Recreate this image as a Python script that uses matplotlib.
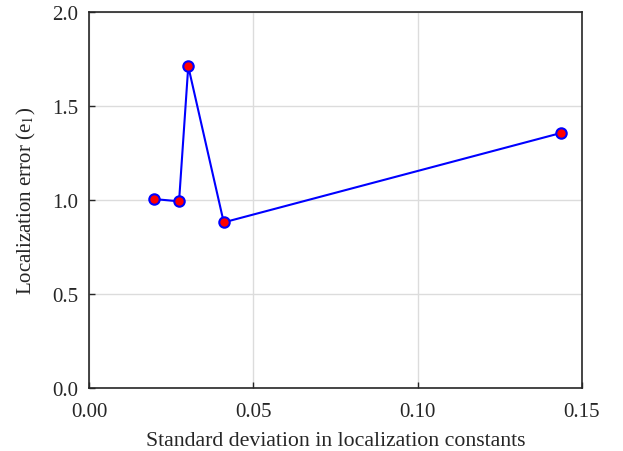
import matplotlib
matplotlib.use("Agg")
import matplotlib.pyplot as plt

plt.rcParams['font.family'] = ['Liberation Serif', 'DejaVu Serif']
plt.rcParams['mathtext.fontset'] = 'stix'

# datos
std_dev = [0.0198, 0.0274, 0.0302, 0.0410, 0.1435]
loc_error = [1.005, 0.993, 1.711, 0.881, 1.356]
x_ticks = [0.00, 0.05, 0.10, 0.15]
y_ticks = [0.0, 0.5, 1.0, 1.5, 2.0]

fig = plt.figure(figsize=(6.23, 4.52), dpi=100)
ax = fig.add_axes([89 / 623, 1 - 389 / 452, (582 - 89) / 623, (389 - 13) / 452])

ax.plot(std_dev, loc_error, color='#0000ff', linewidth=1.5, marker='o',
        markersize=7.5, markerfacecolor='#ff0000', markeredgecolor='#0000ff',
        markeredgewidth=1.5)

ax.set_xlim(0, 0.15)
ax.set_ylim(0, 2.0)
ax.set_xticks(x_ticks)
ax.set_xticklabels([f"{v:.2f}" for v in x_ticks])
ax.set_yticks(y_ticks)
ax.set_yticklabels([f"{v:.1f}" for v in y_ticks])
ax.tick_params(direction='in', length=4, width=1, labelsize=15, colors='#262626')
ax.tick_params(axis='x', pad=10)
ax.tick_params(axis='y', pad=8)
ax.tick_params(top=False, right=False)
ax.grid(True, color='#dcdcdc', linewidth=1)
ax.set_axisbelow(True)
for s in ax.spines.values():
    s.set_linewidth(1.2)
    s.set_color('#262626')

ax.set_xlabel("Standard deviation in localization constants", fontsize=15.7,
              color='#262626', labelpad=7)
ax.set_ylabel("Localization error (e$_1$)", fontsize=15, color='#262626',
              labelpad=10)

fig.savefig("out.png", dpi=100)
